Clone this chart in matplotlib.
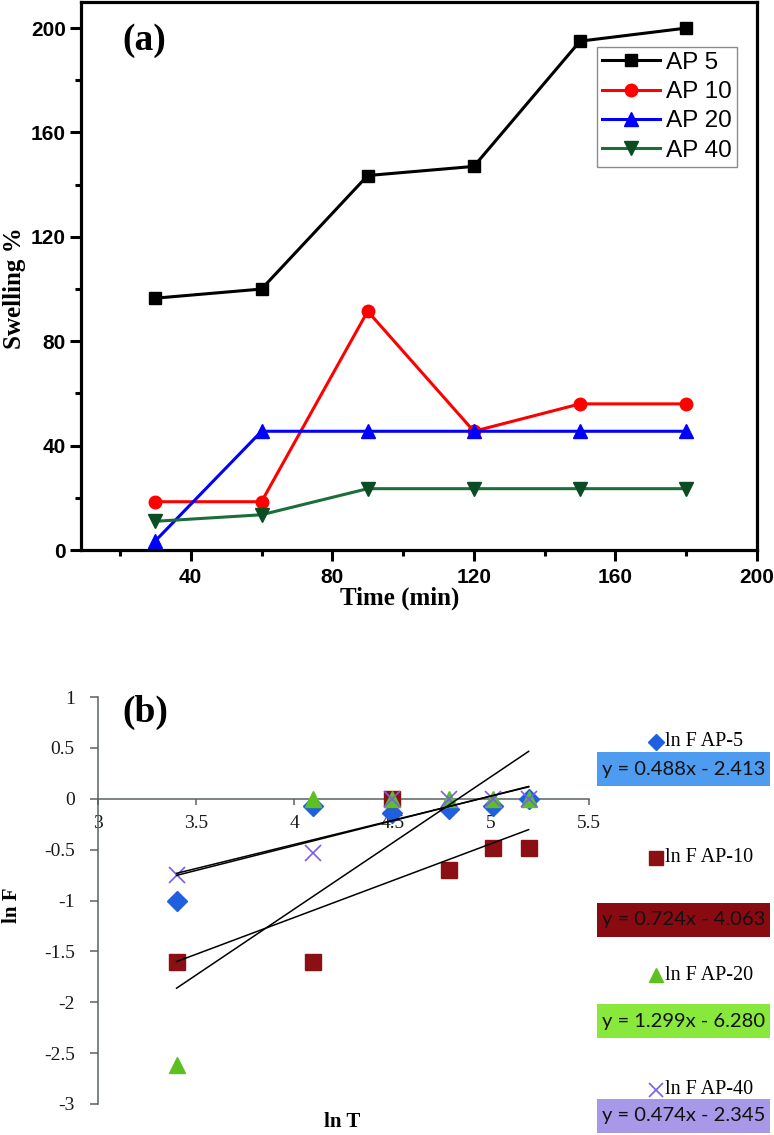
import matplotlib
matplotlib.use('Agg')
import matplotlib.pyplot as plt
from matplotlib.lines import Line2D
from matplotlib.patches import Rectangle
from matplotlib.ticker import MultipleLocator
import numpy as np

W, H = 774, 1135

# ---- data (a): swelling vs time
time_min = [30, 60, 90, 120, 150, 180]
ap5 = [96.5, 100, 143.5, 147, 195, 200]
ap10 = [18.5, 18.5, 91.5, 45.5, 56, 56]
ap20 = [3.5, 45.5, 45.5, 45.5, 45.5, 45.5]
ap40 = [11, 13.5, 23.5, 23.5, 23.5, 23.5]
series_a = ["AP 5", "AP 10", "AP 20", "AP 40"]

# ---- data (b): ln F vs ln T
ln_t = np.log(time_min)
lnf_ap5 = [-1.0, -0.07, -0.14, -0.1, -0.07, 0.0]
lnf_ap10 = [-1.6, -1.6, 0.0, -0.7, -0.48, -0.48]
lnf_ap20 = [-2.62, 0.0, 0.0, 0.0, 0.0, 0.0]
lnf_ap40 = [-0.75, -0.53, 0.0, 0.0, 0.0, 0.0]
series_b = ["ln F AP-5", "ln F AP-10", "ln F AP-20", "ln F AP-40"]
slopes = [0.488, 0.724, 1.299, 0.474]
intercepts = [-2.413, -4.063, -6.280, -2.345]


def fx(x):
    return x / W


def fy(y):
    return 1 - y / H


fig = plt.figure(figsize=(W / 100, H / 100), dpi=100)

# ================= panel (a)
ax = fig.add_axes([fx(81), fy(550), (757 - 81) / W, (550 - 2) / H])
styles = [
    dict(color='black', marker='s', mfc='black', ms=8.5),
    dict(color='#ff0000', marker='o', mfc='#ff0000', ms=9),
    dict(color='#0000ff', marker='^', mfc='#0000ff', ms=10),
    dict(color='#1b6e3a', marker='v', mfc='#0b4d23', ms=10),
]
for vals, name, st in zip([ap5, ap10, ap20, ap40], series_a, styles):
    ax.plot(time_min, vals, lw=2.2, mec=st['mfc'], label=name, clip_on=False, **st)

ax.set_xlim(9, 200)
ax.set_ylim(0, 210)
ax.xaxis.set_major_locator(MultipleLocator(40))
ax.xaxis.set_minor_locator(MultipleLocator(20))
ax.yaxis.set_major_locator(MultipleLocator(40))
ax.yaxis.set_minor_locator(MultipleLocator(20))
for s in ax.spines.values():
    s.set_linewidth(2.3)
ax.tick_params(which='major', direction='out', length=8, width=2.2, labelsize=15)
ax.tick_params(which='minor', direction='out', length=4, width=2.2)
ax.tick_params(axis='x', which='major', pad=5)
ax.tick_params(axis='y', which='major', pad=3)
for lbl in ax.get_xticklabels() + ax.get_yticklabels():
    lbl.set_fontweight('bold')
    lbl.set_fontfamily('Liberation Sans')

ax.set_xlabel('Time (min)', fontsize=18, fontweight='bold', family='Liberation Serif', va='center')
ax.set_ylabel('Swelling %', fontsize=18, fontweight='bold', family='Liberation Serif', va='center')
ax.xaxis.set_label_coords((400 - 81) / 676, (550 - 598) / 548)
ax.yaxis.set_label_coords((15 - 81) / 676, (550 - 288) / 548)
ax.text((144 - 81) / 676, (550 - 40) / 548, '(a)', transform=ax.transAxes, fontsize=27,
        fontweight='bold', family='Liberation Serif', ha='center', va='center')

leg = ax.legend(loc='upper left', bbox_to_anchor=(fx(597), fy(47)), bbox_transform=fig.transFigure,
                prop={'family': 'Liberation Sans', 'size': 17.5}, frameon=True, fancybox=False,
                edgecolor='#707070', handlelength=2.4, handletextpad=0.25, labelspacing=0.3,
                borderpad=0.2, borderaxespad=0, markerscale=1.0)
leg.get_frame().set_linewidth(1.0)

# ================= panel (b)
bx = fig.add_axes([fx(97.7), fy(1104), (589 - 97.7) / W, (1104 - 697) / H])
b_styles = [
    dict(marker='D', color='#2060e0', ms=10),
    dict(marker='s', color='#8b1014', ms=12),
    dict(marker='^', color='#5cc020', ms=11.5),
    dict(marker='x', color='#7a5cf0', ms=12, mew=1.2),
]
for vals, st in zip([lnf_ap5, lnf_ap10, lnf_ap20, lnf_ap40], b_styles):
    bx.plot(ln_t, vals, ls='none', clip_on=False, zorder=3, **st)

xfit = np.array([ln_t.min(), ln_t.max()])
for m, c in zip(slopes, intercepts):
    bx.plot(xfit, m * xfit + c, color='black', lw=1.1, zorder=4)

bx.set_xlim(3, 5.5)
bx.set_ylim(-3, 1)
bx.xaxis.set_major_locator(MultipleLocator(0.5))
bx.yaxis.set_major_locator(MultipleLocator(0.5))
bx.xaxis.set_major_formatter(plt.FuncFormatter(lambda v, p: f'{v:g}'))
bx.yaxis.set_major_formatter(plt.FuncFormatter(lambda v, p: f'{v:g}'))
bx.spines['top'].set_visible(False)
bx.spines['right'].set_visible(False)
bx.spines['bottom'].set_position(('data', 0))
for s in ['left', 'bottom']:
    bx.spines[s].set_color('#5a6060')
    bx.spines[s].set_linewidth(1.1)
bx.tick_params(axis='y', direction='out', length=5.5, width=1.1, color='#5a6060', pad=11,
               labelsize=14, labelcolor='#1a1a1a')
bx.tick_params(axis='x', direction='out', length=4.5, width=1.1, color='#5a6060', pad=7,
               labelsize=14, labelcolor='#1a1a1a')
for lbl in bx.get_xticklabels() + bx.get_yticklabels():
    lbl.set_fontfamily('Liberation Serif')

bx.set_xlabel('ln T', fontsize=15, fontweight='bold', family='Liberation Serif', va='center')
bx.set_ylabel('ln F', fontsize=15, fontweight='bold', family='Liberation Serif', va='center')
bx.xaxis.set_label_coords((342 - 97.7) / 491.3, (1104 - 1122) / 407)
bx.yaxis.set_label_coords((12 - 97.7) / 491.3, (1104 - 905) / 407)
bx.text((145 - 97.7) / 491.3, (1104 - 712) / 407, '(b)', transform=bx.transAxes, fontsize=27,
        fontweight='bold', family='Liberation Serif', ha='center', va='center')

# right-hand legend with equation boxes
label_y = [742, 858, 975, 1090]
box_top = [752, 903, 1004, 1099]
box_colors = ['#4d9cf0', '#8a0a12', '#88e83c', '#a898e8']
for name, st, ly, bt, bc, m, c in zip(series_b, b_styles, label_y, box_top, box_colors,
                                      slopes, intercepts):
    fig.text(fx(665), fy(ly), name, ha='left', va='center', fontsize=14.5,
             family='Liberation Serif', color='black')
    mk = dict(st)
    mk['ms'] = mk['ms'] * 0.85
    fig.add_artist(Line2D([fx(656)], [fy(ly)], transform=fig.transFigure, ls='none', **mk))
    fig.add_artist(Rectangle((fx(597), fy(bt + 34)), 173 / W, 34 / H, transform=fig.transFigure,
                             facecolor=bc, edgecolor='none'))
    eq = f'y = {m:.3f}x - {abs(c):.3f}'
    fig.text(fx(683.5), fy(bt + 17), eq, ha='center', va='center', fontsize=14.5,
             family='Lato', color='#111111')

fig.savefig('out.png', dpi=100)
